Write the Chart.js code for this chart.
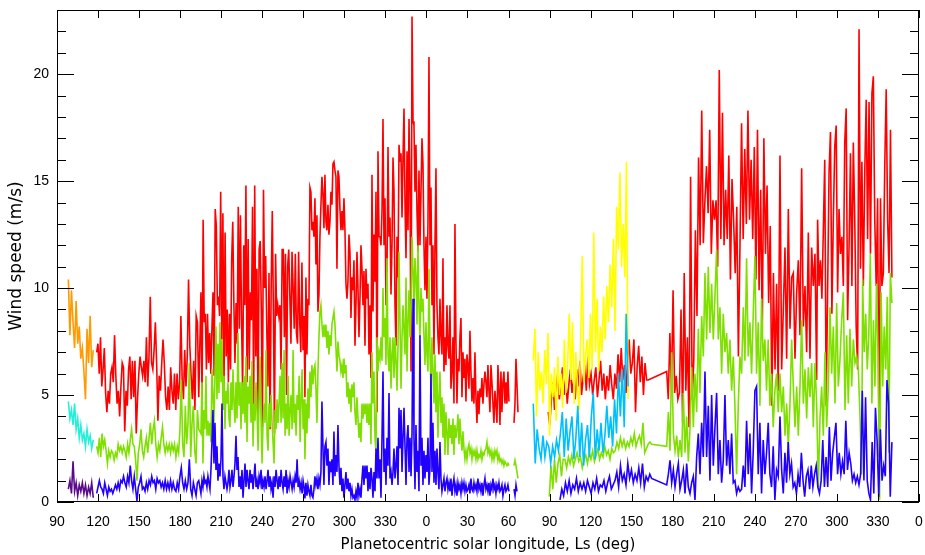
<!DOCTYPE html>
<html>
<head>
<meta charset="utf-8">
<script src="https://cdn.jsdelivr.net/npm/chart.js@4/dist/chart.umd.min.js"></script>
<style>
  html, body { margin: 0; padding: 0; background: #ffffff; }
  #wrap { width: 925px; height: 555px; }
</style>
</head>
<body>
<div id="wrap"><canvas id="chart" width="925" height="555"></canvas></div>
<script>
// Axis ticks: continuous Ls over two Mars years (labels wrap at 360)
const xTickValues = [90,120,150,180,210,240,270,300,330,360,390,420,450,480,510,540,570,600,630,660,690,720];
const yTickValues = [0,5,10,15,20];

// Early period, Ls 98-117 (daily max / mean / min wind speed, m/s)
const earlyRange = [98.3, 116.5];
const earlyMax  = [10.4,7.8,9.9,8.4,7.2,9.4,7.4,8.2,6.7,7.2,6.1,4.8,8.1,6.5,8.7,6.3,7.1];
const earlyMean = [4.7,3.9,4.3,3.6,4.6,3.4,3.9,3.0,3.6,2.9,3.2,2.6,3.4,2.8,3.1,2.5,2.9];
const earlyMin  = [0.6,1.0,0.4,1.9,0.5,0.9,0.3,0.8,0.5,0.9,0.4,0.8,0.3,0.7,0.4,0.9,0.2];

// First year, main record
const y1aRange = [119.0, 193.6];
const maxY1a = [7.0,7.4,6.0,7.7,5.4,6.2,7.2,5.1,4.2,5.2,
  4.6,6.0,6.3,5.6,7.8,5.9,4.6,5.2,4.0,5.4,
  6.5,6.3,3.3,5.2,4.5,6.2,6.8,4.8,6.6,4.9,
  6.6,3.2,4.8,6.0,6.8,6.3,5.9,6.6,5.6,7.7,
  5.4,6.8,9.6,6.5,6.2,7.1,8.4,6.5,3.8,5.9,
  5.2,6.5,7.6,6.5,4.9,4.3,5.4,4.3,6.3,5.2,
  4.6,6.0,4.3,6.0,4.8,5.6,8.7,5.7,4.8,7.1,
  5.4,6.8,10.4,7.3,5.9,4.8,6.6,4.3,8.7,8.4,
  4.9];
const meanY1a = [2.6,2.3,3.0,2.1,3.2,2.6,2.9,2.4,1.8,2.4,
  2.1,2.4,2.3,1.95,2.3,2.1,2.7,2.4,2.6,2.3,
  2.6,2.4,2.1,2.7,2.3,2.9,3.4,2.7,2.6,1.95,
  1.0,2.3,2.7,3.4,2.4,2.1,2.6,3.0,2.3,3.0,
  3.7,2.7,3.4,3.8,2.7,2.1,2.7,2.4,3.0,3.5,
  2.7,2.3,2.7,2.4,2.7,2.3,2.7,2.4,2.7,2.1,
  2.6,2.3,3.4,5.7,2.7,2.1,4.5,2.7,3.7,6.5,
  2.1,3.7,4.5,2.4,1.8,4.3,3.4];
const minY1a = [0.4,0.7,1.0,0.7,0.6,0.4,0.9,0.6,0.3,0.7,
  0.5,0.6,0.4,0.6,0.8,0.6,0.9,0.6,1.0,0.9,
  1.2,0.9,0.7,1.2,0.9,1.7,1.0,0.6,1.2,0.6,
  0.05,0.7,0.9,1.2,0.6,0.7,0.5,0.9,0.6,1.0,
  0.8,1.2,0.9,1.0,0.6,1.1,0.9,1.0,0.7,0.9,
  0.6,1.0,0.6,0.9,0.6,1.0,0.6,0.9,0.6,0.5,
  0.9,0.6,1.2,1.6,0.9,0.6,1.0,0.6,0.9,2.0,
  0.6,0.3,0.9,0.6,0.3,0.9,1.0];

const y1bRange = [195.2, 270.6];
const maxY1b = [9.8,4.8,13.2,8.4,8.8,6.2,8.8,6.5,7.9,6.0,
  8.1,9.8,5.9,13.7,12.9,9.2,9.6,8.7,14.5,7.6,
  13.5,5.2,12.6,6.8,9.0,5.6,8.8,6.2,11.3,13.1,
  9.3,6.5,9.3,7.4,13.8,8.1,13.4,8.5,5.2,12.0,
  9.2,14.8,5.6,12.3,6.2,9.8,8.5,13.8,4.0,14.8,
  6.8,10.9,4.0,11.8,12.2,9.0,3.5,14.6,10.0,11.5,
  8.1,5.4,10.7,3.4,10.1,13.6,9.0,3.2,11.6,8.7,
  9.2,8.7,9.2,6.2,11.8,11.8,7.7,11.6,5.0,11.0,
  11.8,9.6,7.4,11.7,10.0,8.1,11.6,7.9,7.4,11.7,
  8.4,7.0,11.2,7.1,8.7];
const meanY1b = [3.2,5.6,1.8,4.3,3.4,5.9,3.1,3.8,3.1,3.7,
  2.8,6.2,5.0,3.7,5.9,8.2,4.8,7.4,5.1,8.4,
  5.6,7.6,4.3,5.9,3.4,5.2,4.6,5.6,3.9,3.5,
  5.6,4.3,6.2,4.6,3.7,5.6,3.9,7.9,4.5,5.6,
  3.4,5.6,4.1,5.9,3.7,6.8,2.8,5.4,4.6,5.9,
  3.7,6.6,2.6,4.6,3.8,5.6,4.3,2.4,4.6,6.8,
  3.9,1.8,3.7,4.6,3.7,7.1,3.1,2.4,4.6,3.5,
  5.0,3.7,2.8,1.8,4.3,3.4,4.8,3.7,4.6,5.9,
  3.7,6.5,3.9,7.1,3.1,4.6,3.4,5.9,3.1,4.3,
  5.0,3.4,7.1,3.7,4.6,3.1,5.0,4.3,5.9,2.8,
  4.8,6.2,3.4,4.8];
const minY1b = [0.4,1.0,0.7,1.2,0.9,1.0,0.7,1.2,0.9,0.6,
  1.5,2.8,4.3,1.8,3.7,1.5,2.6,1.0,1.8,1.2,
  2.0,4.6,1.2,0.6,1.2,0.9,0.6,0.9,1.5,0.7,
  1.0,1.5,0.7,1.2,1.8,3.1,1.5,2.1,0.7,1.2,
  0.6,1.5,0.2,1.0,1.8,0.7,1.5,1.0,0.6,1.5,
  0.9,1.3,0.6,1.2,1.8,0.7,1.0,0.6,1.2,0.9,
  1.5,0.6,1.0,0.7,1.2,0.6,1.0,1.5,0.7,1.2,
  0.6,0.9,0.2,1.2,0.7,1.5,1.0,0.6,1.2,0.7,
  1.5,0.9,0.6,1.2,0.7,1.5,0.4,1.0,0.7,1.2,
  0.9,0.6,1.0,0.7,1.2,0.9,2.0,0.7,1.0,0.6,
  0.9,0.4,1.0,0.7];

const y1cRange = [271.2, 350.2];
const maxY1c = [4.9,10.5,6.9,9.5,9.2,14.7,14.5,12.7,13.1,12.4,
  14.2,11.1,13.4,8.9,9.7,12.4,13.9,15.2,14.4,12.8,
  15.3,13.1,12.7,13.9,12.5,13.1,14.5,13.9,15.8,15.9,
  15.5,15.2,10.9,15.5,15.2,13.7,12.7,13.6,12.7,14.2,
  12.7,10.2,9.5,10.3,12.5,11.7,8.6,10.5,9.9,11.3,
  7.3,9.2,11.7,10.0,7.7,9.5,12.0,10.9,9.2,10.8,
  7.3,10.9,9.5,10.2,6.9,9.2,5.8,15.3,8.9,12.5,
  10.3,14.5,4.2,16.4,12.4,12.4,12.0,13.6,17.9,12.0,
  14.2,9.2,10.8,16.6,12.4,13.3,9.7,12.0,16.1,14.5,
  9.2,7.3,12.4,10.5,16.7,15.9,16.3,13.3,16.1,18.4,
  13.9,11.4,16.4,12.7,17.9,14.5,6.1,22.7,17.8];
const meanY1c = [2.0,4.6,3.2,5.3,3.9,6.1,4.9,6.4,5.5,6.2,
  6.4,5.3,3.7,6.1,7.7,8.9,9.2,8.3,7.7,8.3,
  7.7,8.3,7.2,8.0,6.9,7.8,7.3,8.3,8.6,8.9,
  8.3,7.2,6.1,7.5,6.9,6.6,6.1,6.4,5.8,6.7,
  6.0,6.4,4.9,5.6,4.6,5.3,4.2,5.5,4.9,5.6,
  4.2,3.6,4.9,3.9,3.0,3.7,2.8,4.6,3.9,4.6,
  4.1,4.6,3.7,4.6,3.6,4.6,2.7,7.0,4.6,6.1,
  3.0,2.4,7.7,6.1,7.0,6.7,7.7,6.6,10.0,7.7,
  8.6,6.4,11.4,6.9,6.1,7.7,5.3,6.9,7.7,5.8,
  7.7,6.6,5.2,7.3,11.7,8.3,5.3,7.7,9.2,8.0,
  6.9,10.5,6.1,8.4,9.9,7.7,9.2,12.4,10.8];
const minY1c = [0.17,0.9,0.3,0.8,0.5,0.3,0.8,0.3,0.2,0.6,
  1.2,0.8,1.1,0.6,1.1,0.8,1.4,4.7,2.6,0.8,
  2.6,2.8,1.7,2.5,0.8,1.9,1.4,2.0,0.8,3.3,
  1.2,2.2,1.4,3.6,1.7,0.8,1.6,0.5,1.1,0.2,
  0.8,1.4,0.6,1.1,0.5,0.9,0.3,0.6,0.2,0.3,
  0.1,0.5,0.2,0.9,0.3,0.6,0.2,1.1,1.7,0.8,
  1.7,1.1,1.7,0.5,1.4,0.6,1.6,1.1,0.2,1.4,
  0.5,2.5,1.1,3.0,1.1,2.0,0.2,3.0,6.1,1.4,
  2.5,0.8,3.0,1.7,5.1,1.1,1.4,0.8,1.4,2.5,
  1.1,1.7,2.6,0.8,4.4,2.5,4.3,1.4,3.0,4.4,
  2.6,0.8,3.0,3.6,1.4,3.0,1.2,3.2,9.5];

const y1dRange = [350.9, 420.3];
const maxY1d = [17.6,14.5,16.7,13.6,11.7,15.5,12.0,14.5,17.0,15.8,
  12.0,9.9,12.4,9.5,13.1,20.8,12.0,14.7,9.2,12.0,
  6.9,12.0,15.6,9.2,7.7,6.9,9.5,7.7,6.9,11.4,
  6.1,7.7,6.4,9.2,7.3,6.7,9.2,5.3,6.1,7.7,
  4.6,13.0,7.5,4.6,6.7,6.1,7.7,8.6,4.9,7.0,
  5.8,6.7,4.7,6.9,6.4,5.3,8.0,6.1,4.7,5.8,
  4.6,7.0,4.9,3.7,5.2,4.1,5.3,4.9,5.8,4.6,
  5.5,6.1,5.6,4.9,6.4,5.2,4.2,6.4,5.6,4.6,
  3.7,5.2,4.6,3.7,6.4,5.3,3.6,6.1,4.2,5.6,
  6.1,4.6,5.6,4.6,6.1,4.7];
const meanY1d = [9.2,11.4,10.5,8.3,12.0,9.2,7.7,10.0,8.9,9.5,
  7.7,6.4,8.4,6.9,6.1,10.9,6.9,5.3,7.7,6.1,
  4.6,6.9,4.2,6.1,3.0,4.9,6.1,3.7,4.9,3.0,
  4.6,2.2,4.2,3.3,2.2,3.9,3.0,3.6,2.7,3.9,
  2.2,3.6,3.0,3.4,4.1,2.7,3.9,3.0,2.4,3.3,
  2.5,2.0,2.4,2.0,2.5,2.7,2.3,2.5,2.0,2.4,
  2.2,2.4,2.0,2.4,2.0,2.2,2.1,2.4,2.0,2.3,
  2.2,2.4,2.5,2.8,2.3,2.5,2.2,2.4,2.0,2.3,
  2.0,2.4,2.2,2.4,1.95,2.2,1.9,2.0,1.8,1.95,
  1.7,1.9,1.8,1.7,1.8,1.7];
const minY1d = [3.0,0.6,3.6,1.4,2.4,0.5,7.8,1.7,3.0,0.8,
  2.4,1.1,2.2,1.4,3.0,0.8,1.6,6.0,1.4,3.7,
  0.9,2.4,0.8,2.5,1.4,0.6,2.8,1.1,0.5,0.8,
  1.1,0.5,0.9,1.1,0.6,0.9,0.5,1.1,0.3,0.8,
  1.1,0.5,0.8,0.3,0.9,0.6,0.8,0.4,0.9,0.6,
  0.9,0.5,0.8,0.5,0.6,0.8,0.4,1.1,0.6,0.5,
  0.9,0.6,0.8,0.5,1.1,0.6,0.8,0.5,0.9,0.3,
  0.8,1.1,0.6,0.8,0.5,0.9,0.3,0.8,0.6,1.1,
  0.6,0.8,0.4,0.8,0.6,0.9,0.5,0.6,0.8,0.3,
  0.6,0.8,0.5,0.6,0.8,0.5];

const y1eRange = [424.0, 426.9];
const maxY1e = [3.7,4.6,6.7,5.5,4.2];
const meanY1e = [1.7,1.95,1.7,1.4,1.1];
const minY1eRange = [424.0, 426.2];
const minY1e = [0.6,0.3,0.8,0.5];

// Second year, Ls 78-147: separate sensor record
const y2SideRange = [438.1, 507.4];
const sideMax = [6.6,8.1,4.0,7.0,5.2,6.1,4.6,7.1,5.5,7.9,3.1,6.0,
  4.9,6.3,3.8,6.8,5.0,6.0,4.4,7.6,5.1,6.4,8.8,
  5.7,8.4,4.6,7.0,5.4,4.3,7.8,11.5,5.6,6.9,
  7.6,5.8,8.8,6.2,12.6,7.0,9.5,6.1,8.2,7.0,9.6,
  7.6,10.1,8.4,11.1,9.1,12.3,8.0,13.8,
  11.8,15.4,11.0,13.0,10.5,15.9,4.8];
const sideMean = [4.6,1.8,3.4,2.5,2.0,3.1,2.1,2.8,2.6,1.8,
  2.6,2.1,2.9,2.4,3.2,4.2,2.1,3.9,2.4,3.3,
  4.0,2.0,3.0,4.5,2.1,3.7,1.7,2.9,3.6,2.1,
  4.0,5.1,2.0,3.4,2.4,3.7,2.3,3.1,4.5,3.0,
  4.0,2.6,4.8,3.2,6.0,4.0,6.2,3.5,8.8,5.4];

// Second year, main record
const maxY2aRange = [449.0, 522.1];
const maxY2a = [4.2,3.6,4.8,5.6,4.3,5.2,6.0,4.8,5.5,6.3,5.0,5.8,4.6,5.5,6.2,5.1,5.7,
  4.8,6.2,5.4,6.6,5.0,5.8,6.4,5.2,6.8,5.5,6.0,5.0,
  5.7,6.3,4.9,5.7,6.6,5.2,6.0,4.8,5.9,5.2,6.4,5.5,
  4.8,6.0,5.3,6.9,5.6,7.2,5.7,6.4,5.1,6.6,7.6,6.0,
  6.5,7.6,4.2,6.3,7.3,5.6,6.8,5.0,6.5,5.7,5.7];
const meanY2aRange = [449.8, 524.6];
const meanY2a = [0.25,1.7,0.6,2.0,0.9,1.8,2.2,1.2,2.0,
  2.0,1.6,2.1,1.8,2.2,1.7,2.0,2.3,1.9,2.1,1.6,
  2.0,2.2,1.8,2.3,2.0,2.4,1.9,2.2,2.5,2.0,2.3,2.1,2.6,2.2,2.4,2.0,2.5,2.3,
  2.4,2.8,2.5,3.0,2.6,2.9,2.5,2.8,2.6,
  3.0,2.7,3.2,2.6,2.9,3.1,2.7,
  3.7,2.3,2.5,2.7,2.8,2.7];
const minY2aRange = [457.6, 524.6];
const minY2a = [0.1,0.6,0.3,0.9,0.5,1.0,0.4,0.8,0.6,1.1,0.5,0.9,
  0.6,0.9,0.5,1.0,0.7,0.4,0.9,0.6,1.1,0.5,0.8,0.7,1.0,0.5,0.9,1.2,0.6,0.8,
  1.0,1.4,0.7,1.7,1.0,1.3,0.8,1.8,1.1,1.5,0.9,1.3,1.0,
  1.6,0.9,1.8,0.7,1.2,1.0,1.3,1.1];

const y2bRange = [535.6, 617.1];
const maxY2b = [6.1,4.8,7.9,5.2,9.9,5.1,5.9,4.8,5.1,9.0,
  3.7,10.7,5.2,7.7,3.5,15.2,4.8,6.6,12.7,8.7,
  16.1,12.0,18.3,12.1,14.1,15.7,13.5,17.4,11.6,14.1,
  13.2,14.1,11.0,20.2,12.3,18.2,12.0,14.6,12.3,16.2,
  10.4,15.1,13.2,10.7,13.8,6.8,12.0,17.7,12.3,16.5,
  13.0,18.3,13.2,16.0,12.3,16.6,10.4,17.4,9.9,14.6,
  7.9,17.0,11.6,14.8,9.3,12.9,4.5,10.7,6.2,10.2,
  5.2];
const meanY2b = [2.6,4.2,2.4,7.0,3.2,2.4,3.1,2.1,2.9,2.1,
  5.1,2.3,4.0,1.9,3.4,6.3,3.5,6.0,4.2,8.1,
  5.1,8.7,6.8,10.7,7.6,11.0,7.9,10.2,7.6,9.6,
  11.8,7.6,9.1,6.0,8.8,7.0,7.9,6.0,7.6,5.2,
  6.8,4.5,1.3,4.5,6.8,6.0,9.1,6.6,11.4,6.8,
  8.4,6.0,8.8,11.5,6.0,8.4,4.5,9.5,6.6,7.6,
  5.2,7.6,4.5,6.0,3.5,5.2,6.0,4.2];
const minY2b = [0.8,1.3,1.95,0.9,1.5,0.7,1.3,1.8,0.6,1.0,
  1.5,0.4,1.8,0.7,0.4,0.9,1.2,0.1,2.1,3.2,
  1.3,3.7,2.1,6.1,2.1,4.5,1.0,5.0,1.7,3.5,
  5.1,1.3,2.9,0.9,1.95,5.0,1.7,2.9,1.3,3.2,
  0.9,1.0,0.4,0.7,0.5,0.6,1.7,0.7,3.8,1.3,
  3.2,0.4,2.4,5.2,5.4,1.3,3.7,0.4,2.9,1.3,
  2.3,3.7,1.3,0.7,2.6,0.1,1.5,1.2];

const maxY2cRange = [618.4, 645.2];
const maxY2c = [16.2,6.2,9.0,11.9,6.7,13.7,8.1,10.5,10.7,6.7,
  9.8,11.3,7.8,15.6,8.2,10.1,7.0,12.6,6.7,11.9,
  10.1,11.6,5.7];
const maxY2dRange = [645.9, 700.2];
const maxY2d = [13.2,10.1,11.3,9.5,12.7,16.0,4.5,9.8,15.4,17.3,
  8.8,13.2,16.6,17.6,9.8,13.7,11.6,12.4,10.1,16.8,
  18.4,8.5,11.9,16.3,10.1,16.8,13.2,8.2,6.2,22.1,
  10.9,15.9,10.1,15.4,18.8,12.3,18.7,11.6,19.1,19.9,
  13.2,10.1,14.2,2.1,14.2,10.1,10.7,15.7,19.3,13.2,
  10.7,17.4,10.5];
const meanY2cRange = [618.4, 678.1];
const meanY2c = [6.0,4.2,5.4,3.1,4.6,2.6,4.6,7.6,5.4,3.5,
  5.4,3.1,5.4,8.5,4.6,6.2,3.9,6.3,4.9,6.5,
  3.5,6.5,4.6,0.7,3.9,5.4,3.1,7.0,3.5,5.4,
  9.1,6.0,8.2,4.6,9.3,5.4,6.7,8.5,9.8,4.3,
  7.8,4.6,8.1,5.4,7.6,6.5,6.8,6.2,4.0,1.3];
const meanY2dRange = [678.8, 700.2];
const meanY2d = [10.4,7.0,8.8,6.2,7.8,11.6,4.6,8.5,5.4,10.2,
  7.0,0.1,9.8,5.4,8.2,6.2,9.6,2.3,10.7,9.3];
const minY2cRange = [618.4, 700.2];
const minY2c = [4.0,1.5,0.4,2.3,0.9,2.8,1.3,1.8,0.7,0.9,
  0.4,1.3,0.7,2.3,1.0,0.25,1.2,1.5,0.6,1.7,
  0.7,1.3,1.7,0.7,0.4,1.0,2.9,0.7,2.1,0.7,
  3.5,1.0,2.3,3.0,3.7,1.3,2.3,1.3,1.9,1.3,
  3.8,1.5,2.3,1.8,1.0,1.3,0.9,1.2,0.8,1.3,
  5.2,1.0,4.9,1.0,0.4,0.1,2.8,0.4,4.4,2.9,
  0.25,3.4,1.0,1.7,1.2,5.7,4.6,0.25,2.8];

// Build {x, y} points: each piece spreads its daily values evenly over its Ls span;
// BREAK ends a line so the next piece starts fresh.
const BREAK = 'break';
function track(pieces) {
  const pts = [];
  for (const p of pieces) {
    if (p === BREAK) {
      const last = pts.length ? pts[pts.length - 1].x : 0;
      pts.push({ x: last + 0.01, y: null });
      continue;
    }
    const [range, vals] = p;
    const n = vals.length;
    vals.forEach((v, i) => {
      pts.push({ x: range[0] + (n > 1 ? (range[1] - range[0]) * i / (n - 1) : 0), y: v });
    });
  }
  return pts;
}

const maxTrack = track([[y1aRange, maxY1a], [y1bRange, maxY1b], [y1cRange, maxY1c], [y1dRange, maxY1d], BREAK,
  [y1eRange, maxY1e], BREAK, [maxY2aRange, maxY2a], [y2bRange, maxY2b], [maxY2cRange, maxY2c], [maxY2dRange, maxY2d]]);
const meanTrack = track([[y1aRange, meanY1a], [y1bRange, meanY1b], [y1cRange, meanY1c], [y1dRange, meanY1d], BREAK,
  [y1eRange, meanY1e], BREAK, [meanY2aRange, meanY2a], [y2bRange, meanY2b], [meanY2cRange, meanY2c], [meanY2dRange, meanY2d]]);
const minTrack = track([[y1aRange, minY1a], [y1bRange, minY1b], [y1cRange, minY1c], [y1dRange, minY1d], BREAK,
  [minY1eRange, minY1e], BREAK, [minY2aRange, minY2a], [y2bRange, minY2b], [minY2cRange, minY2c]]);

const TICK_FONT = '"Liberation Sans", Arial, Helvetica, sans-serif';
const TITLE_FONT = '"DejaVu Sans", Verdana, sans-serif';

function series(data, color, order) {
  return { data, borderColor: color, backgroundColor: color, borderWidth: 1.6, order,
           pointRadius: 0, tension: 0, fill: false, spanGaps: false };
}

// Box frame with inward ticks on all four sides
const frameTicks = {
  id: 'frameTicks',
  afterDatasetsDraw(chart) {
    const { ctx, chartArea: a, scales: { x, y } } = chart;
    ctx.save();
    ctx.strokeStyle = '#000';
    ctx.lineWidth = 1;
    ctx.beginPath();
    for (const v of xTickValues) {
      const px = Math.round(x.getPixelForValue(v)) + 0.5;
      ctx.moveTo(px, a.bottom); ctx.lineTo(px, a.bottom - 8);
      ctx.moveTo(px, a.top); ctx.lineTo(px, a.top + 8);
    }
    for (let v = 0; v <= 23; v++) {
      const len = v % 5 === 0 ? 17 : 9;
      const py = Math.round(y.getPixelForValue(v)) + 0.5;
      ctx.moveTo(a.left, py); ctx.lineTo(a.left + len, py);
      ctx.moveTo(a.right, py); ctx.lineTo(a.right - len, py);
    }
    ctx.stroke();
    ctx.strokeRect(Math.round(a.left) + 0.5, Math.round(a.top) + 0.5,
                   Math.round(a.right - a.left) - 1, Math.round(a.bottom - a.top) - 1);
    ctx.restore();
  }
};

new Chart(document.getElementById('chart'), {
  type: 'line',
  data: {
    datasets: [
      series(minTrack, '#2200ff', 1),
      series(track([[y2SideRange, sideMean]]), '#00bfff', 2),
      series(track([[y2SideRange, sideMax]]), '#ffff00', 3),
      series(meanTrack, '#7fe000', 4),
      series(maxTrack, '#ff0000', 5),
      series(track([[earlyRange, earlyMin]]), '#5a0a8c', 6),
      series(track([[earlyRange, earlyMean]]), '#22f0d8', 7),
      series(track([[earlyRange, earlyMax]]), '#ff9a00', 8)
    ]
  },
  options: {
    responsive: false,
    animation: false,
    devicePixelRatio: 1,
    layout: { padding: { top: 10, right: 6, left: 0, bottom: 0 } },
    plugins: { legend: { display: false }, tooltip: { enabled: false } },
    scales: {
      x: {
        type: 'linear', min: 90, max: 720,
        afterBuildTicks: s => { s.ticks = xTickValues.map(v => ({ value: v })); },
        afterFit: s => { s.height = 53; s.paddingLeft = 0; s.paddingRight = 0; },
        grid: { display: false, drawTicks: false },
        border: { display: false },
        ticks: { autoSkip: false, maxRotation: 0, padding: 12, color: '#000',
                 font: { family: TICK_FONT, size: 14 }, callback: v => String(v % 360) },
        title: { display: true, text: 'Planetocentric solar longitude, Ls (deg)', color: '#000',
                 font: { family: TITLE_FONT, size: 15 }, padding: { top: 0, bottom: 1 } }
      },
      y: {
        type: 'linear', min: 0, max: 23,
        afterBuildTicks: s => { s.ticks = yTickValues.map(v => ({ value: v })); },
        afterFit: s => { s.width = 57; s.paddingTop = 0; s.paddingBottom = 0; },
        grid: { display: false, drawTicks: false },
        border: { display: false },
        ticks: { padding: 8, color: '#000', font: { family: TICK_FONT, size: 14 } },
        title: { display: true, text: 'Wind speed (m/s)', color: '#000',
                 font: { family: TITLE_FONT, size: 17 }, padding: { top: 6, bottom: 0 } }
      }
    }
  },
  plugins: [frameTicks]
});
</script>
</body>
</html>
